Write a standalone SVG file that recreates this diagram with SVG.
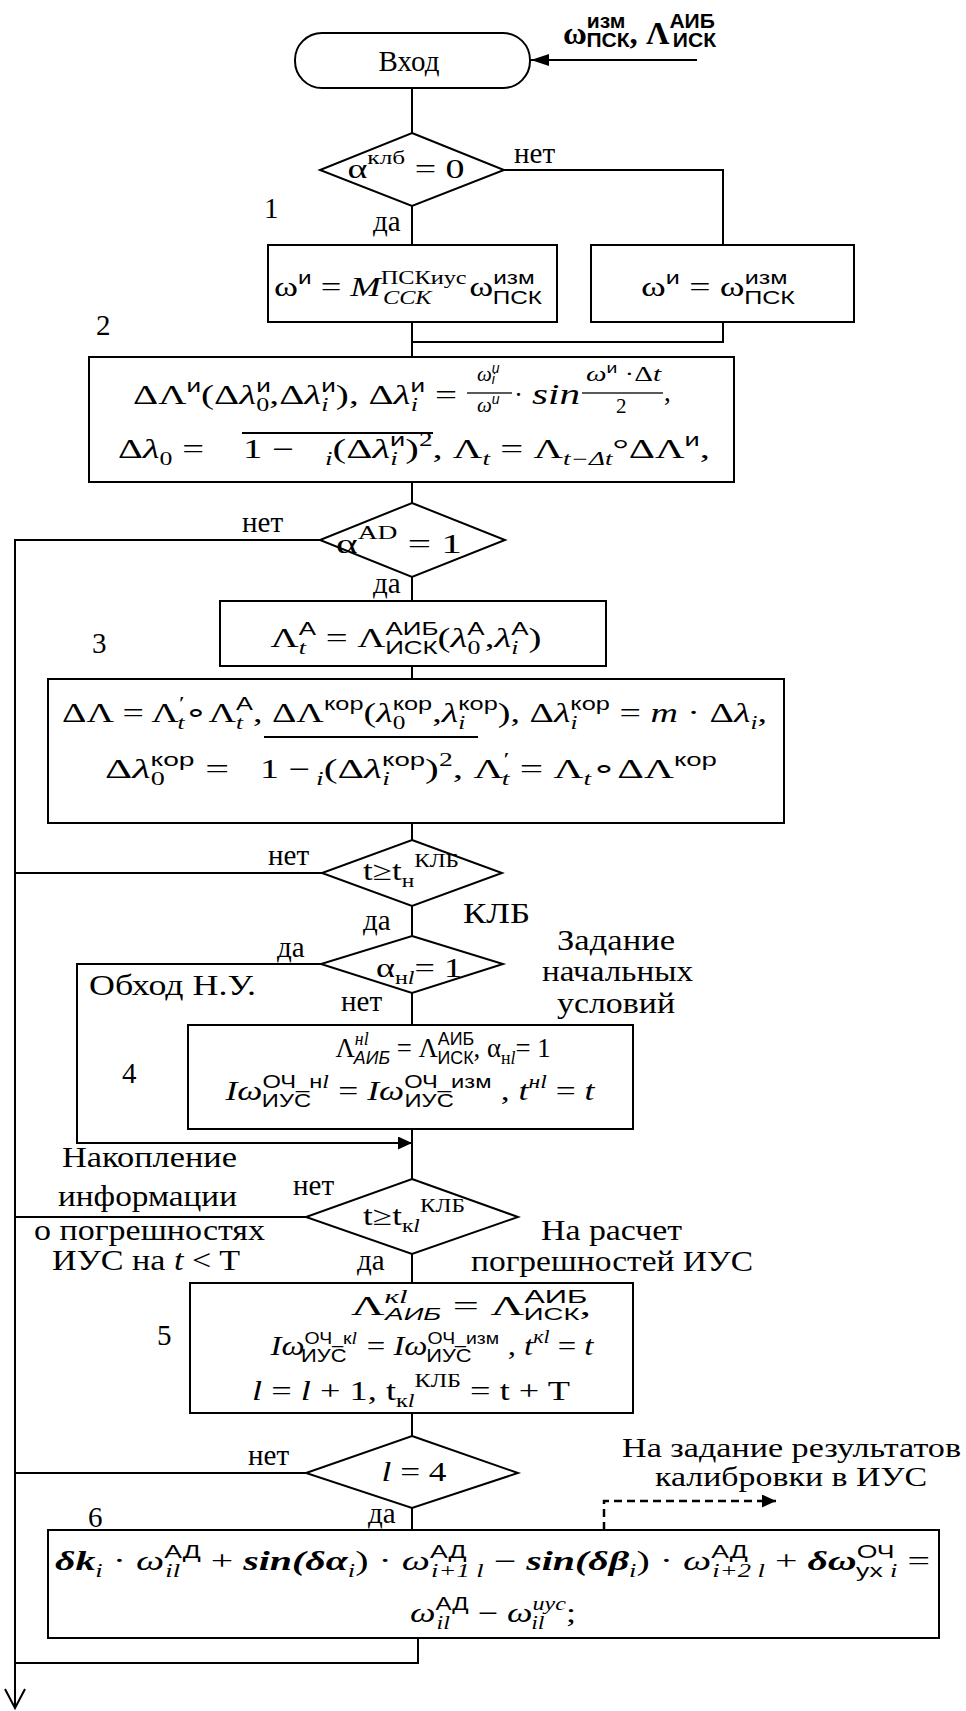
<svg xmlns="http://www.w3.org/2000/svg" width="966" height="1711" viewBox="0 0 966 1711">
<defs>
<style>
.ln{fill:none;stroke:#000;stroke-width:2}
.fr{fill:none;stroke:#222;stroke-width:1.3}
.dash{fill:none;stroke:#000;stroke-width:2.5;stroke-dasharray:8 5}
.bx{fill:#fff;stroke:#000;stroke-width:2}
.t{font-family:"Liberation Serif","Times New Roman",serif;fill:#000}
.lb{font-size:29px}
.fm{font-size:27px}
.fs{font-size:21px}
.sc{font-family:"Liberation Sans",Arial,sans-serif;font-size:18px}
.sb{font-family:"Liberation Sans",Arial,sans-serif;font-size:20px;font-weight:bold}
.ss{font-size:18px}
.xs{font-family:"Liberation Sans",Arial,sans-serif;font-size:14px}
.it{font-style:italic}
.bd{font-weight:bold}
</style>
<marker id="af" markerWidth="18" markerHeight="12" refX="18" refY="6" orient="auto" markerUnits="userSpaceOnUse"><path d="M0,0 L18,6 L0,12 z" fill="#000"/></marker>
<marker id="as" markerWidth="14" markerHeight="13" refX="14" refY="6.5" orient="auto" markerUnits="userSpaceOnUse"><path d="M0,0 L14,6.5 L0,13 z" fill="#000"/></marker>
</defs>
<rect width="966" height="1711" fill="#fff"/>

<g id="connectors">
<path class="ln" d="M697,60 H531" marker-end="url(#af)"/>
<path class="ln" d="M412,88 V133"/>
<path class="ln" d="M504,170 H723 V245"/>
<path class="ln" d="M412,206 V245"/>
<path class="ln" d="M412,322 V357"/>
<path class="ln" d="M723,322 V342 H412"/>
<path class="ln" d="M412,482 V503"/>
<path class="ln" d="M320,540 H15 V1708"/>
<path class="ln" d="M5,1689 L15,1708 L25,1689"/>
<path class="ln" d="M412,577 V601"/>
<path class="ln" d="M412,666 V679"/>
<path class="ln" d="M412,823 V840"/>
<path class="ln" d="M322,873 H15"/>
<path class="ln" d="M412,906 V936"/>
<path class="ln" d="M321,964 H77 V1143 H412" marker-end="url(#as)"/>
<path class="ln" d="M412,993 V1025"/>
<path class="ln" d="M412,1129 V1179"/>
<path class="ln" d="M306,1217 H15"/>
<path class="ln" d="M412,1254 V1283"/>
<path class="ln" d="M412,1413 V1436"/>
<path class="ln" d="M306,1473 H15"/>
<path class="ln" d="M412,1508 V1530"/>
<path class="ln" d="M418,1638 V1663 H15"/>
<path class="dash" d="M604,1530 V1501 H776" marker-end="url(#as)"/>
</g>

<g id="input">
<text class="t bd" style="font-size:31px" x="563" y="44" textLength="153" lengthAdjust="spacingAndGlyphs">ω<tspan class="sb" dy="-16">изм</tspan><tspan class="sb" dx="-37" dy="19">ПСК</tspan><tspan dy="-3">, Λ</tspan><tspan class="sb" dy="-16">АИБ</tspan><tspan class="sb" dx="-40" dy="19">ИСК</tspan></text>
</g>

<g id="start">
<rect class="bx" x="295" y="33" width="235" height="55" rx="27"/>
<text class="t lb" x="409" y="71" text-anchor="middle">Вход</text>
</g>

<g id="dec1">
<polygon class="bx" points="412,133 504,170 412,206 320,170"/>
<text class="t fm" x="406" y="178" text-anchor="middle" textLength="117" lengthAdjust="spacingAndGlyphs">α<tspan class="ss" dy="-14">клб</tspan><tspan dy="14"> = 0</tspan></text>
<text class="t lb" x="514" y="163">нет</text>
<text class="t lb" x="373" y="231">да</text>
<text class="t lb" x="264" y="218">1</text>
</g>

<g id="boxA">
<rect class="bx" x="268" y="245" width="289" height="77"/>
<text class="t fm" x="408" y="296" text-anchor="middle" textLength="268" lengthAdjust="spacingAndGlyphs">ω<tspan class="sc" dy="-12">и</tspan><tspan dy="12"> = </tspan><tspan class="it">M</tspan><tspan class="ss" dy="-12">ПСКиус</tspan><tspan class="ss it" dx="-62" dy="20">ССК</tspan><tspan dy="-8" dx="28">ω</tspan><tspan class="sc" dy="-12">изм</tspan><tspan class="sc" dx="-31" dy="20">ПСК</tspan></text>
</g>

<g id="boxB">
<rect class="bx" x="591" y="245" width="263" height="77"/>
<text class="t fm" x="718" y="296" text-anchor="middle" textLength="154" lengthAdjust="spacingAndGlyphs">ω<tspan class="sc" dy="-12">и</tspan><tspan dy="12"> = ω</tspan><tspan class="sc" dy="-12">изм</tspan><tspan class="sc" dx="-31" dy="20">ПСК</tspan></text>
</g>

<g id="box2">
<rect class="bx" x="89" y="357" width="645" height="125"/>
<text class="t lb" x="96" y="335">2</text>
<text class="t fm" x="133" y="404" textLength="324" lengthAdjust="spacingAndGlyphs">ΔΛ<tspan class="sc" dy="-12">и</tspan><tspan dy="12">(Δ</tspan><tspan class="it">λ</tspan><tspan class="sc" dy="-12">и</tspan><tspan class="ss" dx="-10" dy="19">0</tspan><tspan dy="-7">,Δ</tspan><tspan class="it">λ</tspan><tspan class="sc" dy="-12">и</tspan><tspan class="ss it" dx="-10" dy="19">i</tspan><tspan dy="-7" dx="5">), Δ</tspan><tspan class="it">λ</tspan><tspan class="sc" dy="-12">и</tspan><tspan class="ss it" dx="-10" dy="19">i</tspan><tspan dy="-7" dx="5"> =</tspan></text>
<text class="t fs it" x="477" y="381">ω<tspan class="xs" dy="-8">и</tspan><tspan class="xs it" dx="-8" dy="11">i</tspan></text>
<path class="fr" d="M467,393 H512"/>
<text class="t fs it" x="477" y="412">ω<tspan class="xs" dy="-8">и</tspan></text>
<text class="t fm" x="514" y="404">·</text>
<text class="t it" style="font-size:30px" x="532" y="404" textLength="48" lengthAdjust="spacingAndGlyphs">sin</text>
<text class="t fs" x="586" y="381" textLength="75" lengthAdjust="spacingAndGlyphs"><tspan class="it">ω</tspan><tspan class="xs" dy="-8">и</tspan><tspan dy="8"> ·Δ</tspan><tspan class="it">t</tspan></text>
<path class="fr" d="M582,393 H663"/>
<text class="t fs" x="616" y="413">2</text>
<text class="t fm" x="664" y="401">,</text>
<text class="t fm" x="118" y="458" textLength="86" lengthAdjust="spacingAndGlyphs">Δ<tspan class="it">λ</tspan><tspan class="ss" dy="7">0</tspan><tspan dy="-7"> =</tspan></text>
<path class="ln" d="M242,433 H433"/>
<text class="t fm" x="243" y="458" textLength="51" lengthAdjust="spacingAndGlyphs">1 −</text>
<text class="t fm" x="325" y="458" textLength="385" lengthAdjust="spacingAndGlyphs"><tspan class="ss it" dy="7">i</tspan><tspan dy="-7">(Δ</tspan><tspan class="it">λ</tspan><tspan class="sc" dy="-12">и</tspan><tspan class="ss it" dx="-10" dy="19">i</tspan><tspan dy="-7" dx="5">)</tspan><tspan class="ss" dy="-12">2</tspan><tspan dy="12">, Λ</tspan><tspan class="ss it" dy="7">t</tspan><tspan dy="-7"> = Λ</tspan><tspan class="ss it" dy="7">t−Δt</tspan><tspan dy="-7">°ΔΛ</tspan><tspan class="sc" dy="-12">и</tspan><tspan dy="12">,</tspan></text>
</g>

<g id="dec2">
<polygon class="bx" points="412,503 505,540 412,577 320,540"/>
<text class="t fm" x="399" y="553" text-anchor="middle" textLength="126" lengthAdjust="spacingAndGlyphs">α<tspan class="ss" dy="-14">AD</tspan><tspan dy="14"> = 1</tspan></text>
<text class="t lb" x="242" y="532">нет</text>
<text class="t lb" x="373" y="593">да</text>
</g>

<g id="box3a">
<rect class="bx" x="220" y="601" width="386" height="65"/>
<text class="t lb" x="92" y="653">3</text>
<text class="t fm" x="406" y="647" text-anchor="middle" textLength="271" lengthAdjust="spacingAndGlyphs">Λ<tspan class="sc" dy="-12">А</tspan><tspan class="ss it" dx="-12" dy="19">t</tspan><tspan dy="-7" dx="7"> = Λ</tspan><tspan class="sc" dy="-12">АИБ</tspan><tspan class="sc" dx="-37" dy="19">ИСК</tspan><tspan dy="-7">(</tspan><tspan class="it">λ</tspan><tspan class="sc" dy="-12">А</tspan><tspan class="ss" dx="-12" dy="19">0</tspan><tspan dy="-7" dx="3">,</tspan><tspan class="it">λ</tspan><tspan class="sc" dy="-12">А</tspan><tspan class="ss it" dx="-12" dy="19">i</tspan><tspan dy="-7" dx="7">)</tspan></text>
</g>

<g id="box3b">
<rect class="bx" x="48" y="679" width="736" height="144"/>
<text class="t fm" x="62" y="722" textLength="705" lengthAdjust="spacingAndGlyphs">ΔΛ = Λ<tspan class="ss" dy="-12">′</tspan><tspan class="ss it" dx="-5" dy="19">t</tspan><tspan dy="-7">∘Λ</tspan><tspan class="sc" dy="-12">А</tspan><tspan class="ss it" dx="-12" dy="19">t</tspan><tspan dy="-7" dx="7">, ΔΛ</tspan><tspan class="sc" dy="-12">кор</tspan><tspan dy="12">(</tspan><tspan class="it">λ</tspan><tspan class="sc" dy="-12">кор</tspan><tspan class="ss" dx="-28" dy="19">0</tspan><tspan dy="-7" dx="19">,</tspan><tspan class="it">λ</tspan><tspan class="sc" dy="-12">кор</tspan><tspan class="ss it" dx="-28" dy="19">i</tspan><tspan dy="-7" dx="23">), Δ</tspan><tspan class="it">λ</tspan><tspan class="sc" dy="-12">кор</tspan><tspan class="ss it" dx="-28" dy="19">i</tspan><tspan dy="-7" dx="23"> = </tspan><tspan class="it">m</tspan><tspan> · Δ</tspan><tspan class="it">λ</tspan><tspan class="ss it" dy="7">i</tspan><tspan dy="-7">,</tspan></text>
<path class="ln" d="M264,737 H478"/>
<text class="t fm" x="105" y="778" textLength="124" lengthAdjust="spacingAndGlyphs">Δ<tspan class="it">λ</tspan><tspan class="sc" dy="-12">кор</tspan><tspan class="ss" dx="-28" dy="19">0</tspan><tspan dy="-7" dx="19"> =</tspan></text>
<text class="t fm" x="260" y="778" textLength="50" lengthAdjust="spacingAndGlyphs">1 −</text>
<text class="t fm" x="316" y="778" textLength="401" lengthAdjust="spacingAndGlyphs"><tspan class="ss it" dy="7">i</tspan><tspan dy="-7">(Δ</tspan><tspan class="it">λ</tspan><tspan class="sc" dy="-12">кор</tspan><tspan class="ss it" dx="-28" dy="19">i</tspan><tspan dy="-7" dx="23">)</tspan><tspan class="ss" dy="-12">2</tspan><tspan dy="12">, Λ</tspan><tspan class="ss" dy="-12">′</tspan><tspan class="ss it" dx="-5" dy="19">t</tspan><tspan dy="-7"> = Λ</tspan><tspan class="ss it" dy="7">t</tspan><tspan dy="-7">∘ΔΛ</tspan><tspan class="sc" dy="-12">кор</tspan></text>
</g>

<g id="dec3">
<polygon class="bx" points="412,840 502,873 412,906 322,873"/>
<text class="t fm" x="363" y="880" textLength="96" lengthAdjust="spacingAndGlyphs">t≥t<tspan class="ss" dy="7">н</tspan><tspan class="ss" dy="-20">КЛБ</tspan></text>
<text class="t lb" x="268" y="865">нет</text>
<text class="t lb" x="363" y="930">да</text>
<text class="t lb" x="463" y="923" textLength="67" lengthAdjust="spacingAndGlyphs">КЛБ</text>
</g>

<g id="dec4">
<polygon class="bx" points="412,936 503,964 412,993 321,964"/>
<text class="t fm" x="376" y="977" textLength="86" lengthAdjust="spacingAndGlyphs">α<tspan class="ss" dy="7">н</tspan><tspan class="ss it">l</tspan><tspan dy="-7">= 1</tspan></text>
<text class="t lb" x="277" y="957">да</text>
<text class="t lb" x="341" y="1011">нет</text>
<text class="t lb" x="89" y="995" textLength="167" lengthAdjust="spacingAndGlyphs">Обход Н.У.</text>
<text class="t lb" x="557" y="950" textLength="118" lengthAdjust="spacingAndGlyphs">Задание</text>
<text class="t lb" x="542" y="981" textLength="151" lengthAdjust="spacingAndGlyphs">начальных</text>
<text class="t lb" x="557" y="1013" textLength="118" lengthAdjust="spacingAndGlyphs">условий</text>
</g>

<g id="box4">
<rect class="bx" x="188" y="1025" width="445" height="104"/>
<text class="t lb" x="122" y="1083">4</text>
<text class="t fm" x="443" y="1057" text-anchor="middle" textLength="215" lengthAdjust="spacingAndGlyphs">Λ<tspan class="ss it" dy="-12">нl</tspan><tspan class="sc it" dx="-15" dy="19">АИБ</tspan><tspan dy="-7"> = Λ</tspan><tspan class="sc" dy="-12">АИБ</tspan><tspan class="sc" dx="-37" dy="19">ИСК</tspan><tspan dy="-7">, α</tspan><tspan class="ss" dy="7">н</tspan><tspan class="ss it">l</tspan><tspan dy="-7">= 1</tspan></text>
<text class="t fm" x="410" y="1100" text-anchor="middle" textLength="369" lengthAdjust="spacingAndGlyphs"><tspan class="it">Iω</tspan><tspan class="sc" dy="-12">ОЧ_н</tspan><tspan class="ss it">l</tspan><tspan class="sc" dx="-51" dy="19">ИУС</tspan><tspan dy="-7" dx="14"> = </tspan><tspan class="it">Iω</tspan><tspan class="sc" dy="-12">ОЧ_изм</tspan><tspan class="sc" dx="-66" dy="19">ИУС</tspan><tspan dy="-7" dx="29"> , </tspan><tspan class="it">t</tspan><tspan class="ss it" dy="-12">нl</tspan><tspan dy="12"> = </tspan><tspan class="it">t</tspan></text>
</g>

<g id="note-accum">
<text class="t lb" x="62" y="1167" textLength="175" lengthAdjust="spacingAndGlyphs">Накопление</text>
<text class="t lb" x="58" y="1206" textLength="179" lengthAdjust="spacingAndGlyphs">информации</text>
<text class="t lb" x="34" y="1240" textLength="231" lengthAdjust="spacingAndGlyphs">о погрешностях</text>
<text class="t lb" x="52" y="1270" textLength="188" lengthAdjust="spacingAndGlyphs">ИУС на <tspan class="it">t</tspan> &lt; T</text>
</g>

<g id="dec5">
<polygon class="bx" points="412,1179 518,1217 412,1254 306,1217"/>
<text class="t fm" x="363" y="1225" textLength="102" lengthAdjust="spacingAndGlyphs">t≥t<tspan class="ss" dy="7">к</tspan><tspan class="ss it">l</tspan><tspan class="ss" dy="-20">КЛБ</tspan></text>
<text class="t lb" x="293" y="1195">нет</text>
<text class="t lb" x="357" y="1270">да</text>
<text class="t lb" x="541" y="1240" textLength="141" lengthAdjust="spacingAndGlyphs">На расчет</text>
<text class="t lb" x="471" y="1271" textLength="282" lengthAdjust="spacingAndGlyphs">погрешностей ИУС</text>
</g>

<g id="box5">
<rect class="bx" x="190" y="1283" width="443" height="130"/>
<text class="t lb" x="157" y="1345">5</text>
<text class="t fm" x="471" y="1315" text-anchor="middle" textLength="240" lengthAdjust="spacingAndGlyphs">Λ<tspan class="ss it" dy="-12">кl</tspan><tspan class="sc it" style="font-size:16px" dx="-13" dy="17">АИБ</tspan><tspan dy="-5"> = Λ</tspan><tspan class="sc" dy="-12">АИБ</tspan><tspan class="sc" style="font-size:16px" dx="-37" dy="17">ИСК</tspan><tspan dy="-5">,</tspan></text>
<text class="t fm" x="432" y="1355" text-anchor="middle" textLength="323" lengthAdjust="spacingAndGlyphs"><tspan class="it">Iω</tspan><tspan class="sc" style="font-size:16px" dy="-11">ОЧ_к</tspan><tspan class="ss it" style="font-size:16px">l</tspan><tspan class="sc" dx="-46" dy="18">ИУС</tspan><tspan dy="-7" dx="10"> = </tspan><tspan class="it">Iω</tspan><tspan class="sc" style="font-size:16px" dy="-11">ОЧ_изм</tspan><tspan class="sc" dx="-60" dy="18">ИУС</tspan><tspan dy="-7" dx="23"> , </tspan><tspan class="it">t</tspan><tspan class="ss it" dy="-12">кl</tspan><tspan dy="12"> = </tspan><tspan class="it">t</tspan></text>
<text class="t fm" x="411" y="1400" text-anchor="middle" textLength="318" lengthAdjust="spacingAndGlyphs"><tspan class="it">l</tspan> = <tspan class="it">l</tspan> + 1, t<tspan class="ss" dy="7">к</tspan><tspan class="ss it">l</tspan><tspan class="ss" dy="-20">КЛБ</tspan><tspan dy="13"> = t + T</tspan></text>
</g>

<g id="dec6">
<polygon class="bx" points="412,1436 518,1473 412,1508 306,1473"/>
<text class="t fm it" x="414" y="1481" text-anchor="middle" textLength="65" lengthAdjust="spacingAndGlyphs">l<tspan font-style="normal"> = 4</tspan></text>
<text class="t lb" x="248" y="1465">нет</text>
<text class="t lb" x="368" y="1523">да</text>
<text class="t" style="font-size:27px" x="622" y="1457" textLength="339" lengthAdjust="spacingAndGlyphs">На задание результатов</text>
<text class="t" style="font-size:27px" x="655" y="1486" textLength="272" lengthAdjust="spacingAndGlyphs">калибровки в ИУС</text>
</g>

<g id="box6">
<rect class="bx" x="48" y="1530" width="891" height="108"/>
<text class="t lb" x="88" y="1527">6</text>
<text class="t fm" x="55" y="1570" textLength="875" lengthAdjust="spacingAndGlyphs"><tspan class="bd it">δk</tspan><tspan class="ss it" dy="7">i</tspan><tspan dy="-7"> · </tspan><tspan class="it">ω</tspan><tspan class="sc" dy="-12">АД</tspan><tspan class="ss it" dx="-24" dy="19">il</tspan><tspan dy="-7" dx="14"> + </tspan><tspan class="bd it">sin(δα</tspan><tspan class="ss it" dy="7">i</tspan><tspan dy="-7">) · </tspan><tspan class="it">ω</tspan><tspan class="sc" dy="-12">АД</tspan><tspan class="ss it" dx="-24" dy="19">i+1 l</tspan><tspan dy="-7"> − </tspan><tspan class="bd it">sin(δβ</tspan><tspan class="ss it" dy="7">i</tspan><tspan dy="-7">) · </tspan><tspan class="it">ω</tspan><tspan class="sc" dy="-12">АД</tspan><tspan class="ss it" dx="-24" dy="19">i+2 l</tspan><tspan dy="-7"> + </tspan><tspan class="bd it">δω</tspan><tspan class="sc" dy="-12">ОЧ</tspan><tspan class="sc" dx="-26" dy="19">ух </tspan><tspan class="ss it">i</tspan><tspan dy="-7"> =</tspan></text>
<text class="t fm" x="410" y="1622" textLength="166" lengthAdjust="spacingAndGlyphs"><tspan class="it">ω</tspan><tspan class="sc" dy="-12">АД</tspan><tspan class="ss it" dx="-24" dy="19">il</tspan><tspan dy="-7" dx="14"> − </tspan><tspan class="it">ω</tspan><tspan class="ss it" dy="-12">иус</tspan><tspan class="ss it" dx="-26" dy="19">il</tspan><tspan dy="-7" dx="16">;</tspan></text>
</g>
</svg>
